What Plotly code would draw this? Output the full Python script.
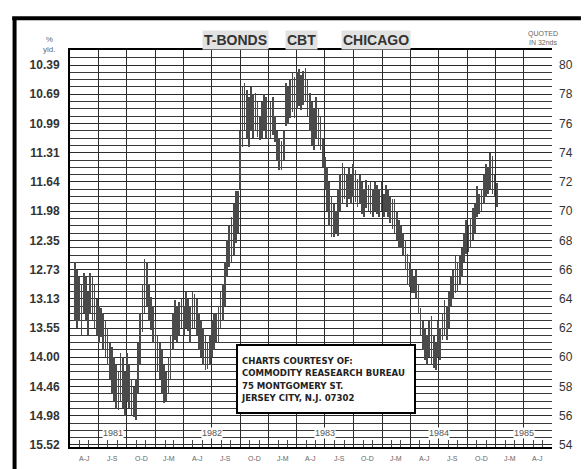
import pandas as pd
import plotly.graph_objects as go

# ---------------- data: weekly high / low, T-bond futures price (points, quoted in 32nds) ----
start_week = "1981-04-17"
highs = [66.5, 66, 65.5, 65, 65.8, 65.5, 64.5, 65.8, 65.5, 65,
         64, 63.5, 63.4, 63, 62.5, 62, 61, 60.7, 60, 59.5,
         59, 60.3, 60, 59, 60.3, 59.5, 58.5, 58, 58.5, 61,
         63, 65, 66.7, 66.5, 65, 64.1, 63.5, 62.5, 61.5, 61,
         60.5, 59.5, 59, 60, 61.5, 63, 63.9, 63.5, 63.8, 64,
         63.5, 64.5, 64, 63.5, 64.5, 64.3, 64, 63, 62.5, 62,
         61.5, 61, 61.5, 62.5, 63, 63, 63.5, 64.5, 65, 66.5,
         68, 69, 69.6, 70.5, 71.4, 71.4, 75.5, 78.5, 78.8, 78.3,
         77.8, 78.5, 78, 78.1, 77.5, 76.5, 77.5, 78, 77.8, 77,
         77.5, 77.8, 76.5, 75.5, 75, 74.8, 75.5, 78.8, 78.5, 79,
         79.5, 79.2, 79.5, 79.7, 79.3, 79.6, 79.8, 79, 78.1, 77.5,
         77, 77.8, 77, 76.5, 75, 73.7, 73, 72, 71, 70.5,
         70, 71.5, 72.5, 73.3, 73, 72.5, 73, 72.5, 73.2, 72.8,
         72.2, 72.5, 72, 71.5, 72.1, 71.8, 72, 71.5, 72, 71.8,
         71.5, 72, 71.2, 71.8, 71.5, 71, 70.8, 70.8, 70, 69.4,
         69, 68.5, 68, 67.1, 66.5, 66, 65.5, 66, 65, 63.4,
         62.5, 62, 61.5, 62.5, 62.8, 61.5, 61, 62.5, 62, 63,
         63.9, 63.5, 64.5, 65.5, 66, 66.9, 66.5, 67, 67.5, 68.5,
         69.4, 69, 69.5, 70.2, 70.5, 71.7, 71.2, 71.5, 72.5, 73.2,
         73, 74, 73.8, 72.5, 71.9]
lows = [62.5, 62, 62.5, 61.5, 63, 62.5, 61.5, 63, 62.5, 62,
        61.5, 61, 61.4, 60.5, 60, 59.5, 58.5, 57.5, 57, 56.5,
        56.4, 57, 56.5, 56, 57, 56.5, 56, 55.9, 55.7, 57.5,
        59.5, 61.7, 63, 63.5, 62.5, 61.9, 61, 60.5, 59, 58.5,
        57.5, 56.9, 57, 57.5, 58.5, 60.5, 61.2, 61, 61.5, 62,
        61.5, 62, 61.8, 61, 62, 62, 61.5, 60.5, 60, 59.5,
        59.1, 59.2, 59.5, 60, 60.5, 61, 61, 62, 62.5, 63.5,
        65.5, 66.2, 66.5, 67, 67.8, 68.5, 71.5, 74.4, 75.5, 75,
        74.4, 75.5, 75, 75.5, 75.1, 74.9, 75, 75.5, 75, 74.7,
        75, 75.2, 74.7, 73.5, 72.8, 72.8, 73.5, 75.8, 76, 76.4,
        76.8, 76.4, 77, 77.2, 76.9, 77.3, 77.5, 76.5, 75.5, 74.5,
        74.2, 75, 74.5, 74.2, 73, 71.5, 70, 69, 68.2, 68.2,
        68.5, 68.3, 70, 70.5, 70.8, 70.3, 70.8, 70.5, 71, 70.6,
        70.3, 70.5, 69.8, 69.6, 70.2, 70, 69.8, 69.6, 70, 69.8,
        69.6, 70, 69.6, 70, 69.6, 69.2, 68.8, 68.5, 68, 67.5,
        67.5, 67, 66, 65, 64.8, 64.4, 64.4, 64, 63, 61.5,
        60.5, 59.8, 59.5, 60, 59.5, 59.3, 59.1, 60, 59.8, 61.2,
        61.5, 61.2, 62, 63.5, 64, 64.4, 64.5, 65, 65.5, 66.5,
        67.1, 67.2, 67.5, 68, 68.5, 69.6, 69.8, 70, 70.5, 71,
        71.2, 71.5, 71.2, 71, 70.3]

price_ticks = [54, 56, 58, 60, 62, 64, 66, 68, 70, 72, 74, 76, 78, 80]
yield_labels = ["15.52", "14.98", "14.46", "14.00", "13.55", "13.13", "12.73",
                "12.35", "11.98", "11.64", "11.31", "10.99", "10.69", "10.39"]
quarter_labels = ["A-J", "J-S", "O-D", "J-M", "A-J", "J-S", "O-D", "J-M", "A-J",
                  "J-S", "O-D", "J-M", "A-J", "J-S", "O-D", "J-M", "A-J"]
years = ["1981", "1982", "1983", "1984", "1985"]
title_words = ["T-BONDS", "CBT", "CHICAGO"]
credit_lines = ["CHARTS COURTESY OF:", "COMMODITY REASEARCH BUREAU",
                "75 MONTGOMERY ST.", "JERSEY CITY, N.J. 07302"]

# ---------------- derived ----------------
dates = pd.date_range(start_week, periods=len(highs), freq="7D")
spans = [h - l for h, l in zip(highs, lows)]
x_start, x_end = pd.Timestamp("1981-04-01"), pd.Timestamp("1985-07-01")
q_starts = pd.date_range(x_start, x_end, freq="QS")
q_mids = [a + (b - a) / 2 for a, b in zip(q_starts[:-1], q_starts[1:])]
m_starts = pd.date_range(x_start, x_end, freq="MS")
y_lo, y_hi = 53.86, 81.03

FONT = "DejaVu Sans Condensed, Liberation Sans Narrow, Roboto Condensed, Liberation Sans, Arial"
SANS = "Liberation Sans, Arial"
INK = "#2b2b2b"

fig = go.Figure()
fig.add_trace(go.Bar(x=dates, y=spans, base=lows, width=2.2 * 86400000,
                     marker=dict(color="#4a4a4a", line=dict(width=0)),
                     showlegend=False, hoverinfo="skip"))
fig.add_trace(go.Scatter(x=[dates[0]], y=[None], yaxis="y2", showlegend=False,
                         hoverinfo="skip"))

annotations = []
for qm, lab in zip(q_mids, quarter_labels):
    annotations.append(dict(x=qm, y=-0.014, xref="x", yref="paper", text=lab,
                            showarrow=False, xanchor="center", yanchor="top",
                            font=dict(family=SANS, size=7, color="#666")))
for yr in years:
    a = max(pd.Timestamp(yr + "-01-01"), x_start)
    b = min(pd.Timestamp(str(int(yr) + 1) + "-01-01"), x_end)
    annotations.append(dict(x=a + (b - a) / 2, y=54.85, xref="x", yref="y", text=yr,
                            showarrow=False, bgcolor="white", borderpad=0,
                            xanchor="center", yanchor="middle",
                            font=dict(family=SANS, size=9, color="#555")))

for txt, xc in zip(title_words, [0.343, 0.480, 0.634]):
    annotations.append(dict(x=xc, y=1.025, xref="paper", yref="paper", text="<b>" + txt + "</b>",
                            showarrow=False, bgcolor="#e2e2e2", borderpad=1,
                            xanchor="center", yanchor="middle",
                            font=dict(family=SANS, size=14, color="#333")))
annotations.append(dict(x=-0.043, y=0.984, xref="paper", yref="paper", text="%<br>yld.",
                        showarrow=False, xanchor="center", yanchor="bottom",
                        font=dict(family=SANS, size=8, color="#666")))
annotations.append(dict(x=0.981, y=1.006, xref="paper", yref="paper", text="QUOTED<br>IN 32nds",
                        showarrow=False, xanchor="center", yanchor="bottom",
                        font=dict(family=SANS, size=7, color="#666")))
annotations.append(dict(x=0.345, y=0.259, xref="paper", yref="paper", xanchor="left", yanchor="top",
                        text="<b>" + "<br>".join(credit_lines) + "</b>",
                        align="left", showarrow=False, bgcolor="white", bordercolor="black",
                        borderwidth=2, borderpad=3, width=170, height=60, valign="middle",
                        font=dict(family=FONT, size=9.5, color="#222")))

shapes = [
    dict(type="line", xref="paper", yref="paper", x0=-0.115, x1=-0.115, y0=1.080, y1=-0.06,
         line=dict(color="black", width=4)),
    dict(type="line", xref="paper", yref="paper", x0=-0.12, x1=1.06, y0=1.080, y1=1.080,
         line=dict(color="black", width=4)),
]

fig.update_layout(
    width=585, height=469,
    margin=dict(l=70, r=28, t=50, b=22),
    paper_bgcolor="white", plot_bgcolor="white",
    bargap=0,
    xaxis=dict(type="date", range=[x_start, x_end], tickmode="array", tickvals=q_starts,
               showticklabels=False, showgrid=True, gridcolor=INK, gridwidth=1.2,
               ticks="inside", ticklen=8, tickcolor=INK,
               minor=dict(tickmode="array", tickvals=m_starts, ticks="inside", ticklen=7,
                          tickcolor="#444", showgrid=False),
               showline=True, linecolor="black", linewidth=1.5, mirror=True, zeroline=False),
    yaxis=dict(range=[y_lo, y_hi], tickmode="array", tickvals=price_ticks,
               ticktext=["<b>" + t + "</b>" for t in yield_labels],
               showgrid=True, gridcolor=INK, gridwidth=1.4,
               minor=dict(tick0=54, dtick=0.5, showgrid=True, gridcolor="#3a3a3a", gridwidth=1),
               ticks="", ticklabelstandoff=6, zeroline=False,
               showline=True, linecolor="black", linewidth=2,
               tickfont=dict(family=SANS, size=12, color="#333")),
    yaxis2=dict(range=[y_lo, y_hi], overlaying="y", side="right", tickmode="array",
                tickvals=price_ticks, ticktext=[str(v) for v in price_ticks],
                showgrid=False, ticks="", ticklabelstandoff=6, zeroline=False,
                tickfont=dict(family=SANS, size=12, color="#333")),
    annotations=annotations,
    shapes=shapes,
)

fig.write_html("out.html", config={"displayModeBar": False},
               post_script="document.body.style.margin='0';document.body.style.overflow='hidden';")
